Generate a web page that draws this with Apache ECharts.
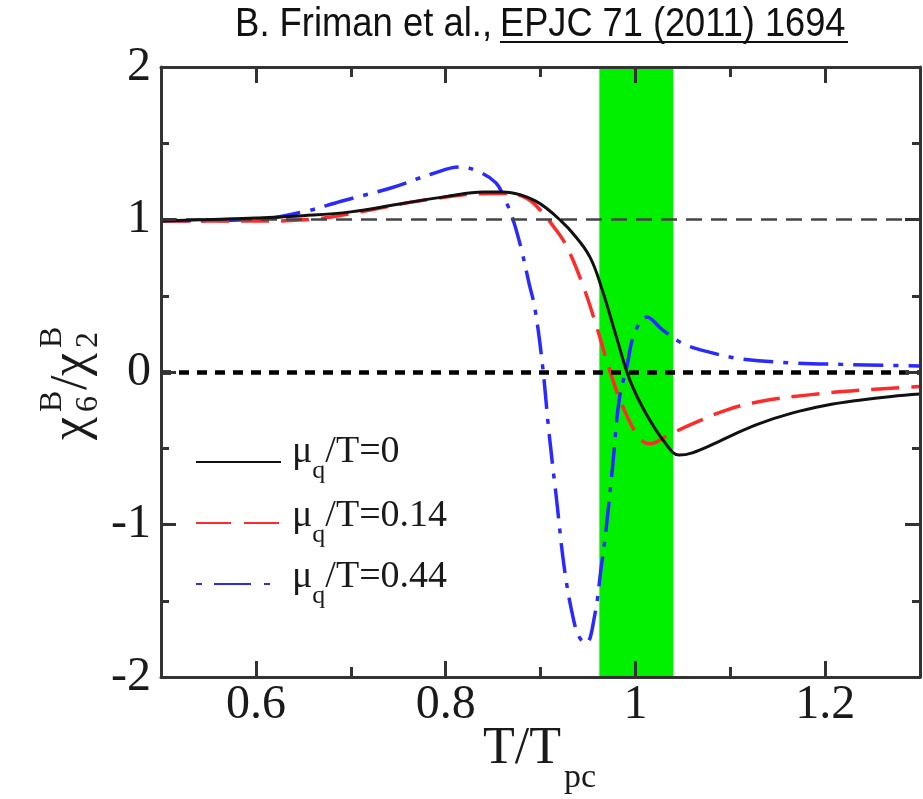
<!DOCTYPE html>
<html><head><meta charset="utf-8">
<script src="https://cdn.jsdelivr.net/npm/echarts@6/dist/echarts.min.js"></script>
<style>html,body{margin:0;padding:0;background:#fff}#c{width:923px;height:799px}</style>
</head><body><div id="c"></div>
<script>
// ---- data ----
const xBlack = [0.5,0.55,0.6,0.65,0.7,0.75,0.8,0.84,0.86,0.88,0.895,0.906,0.92,0.934,0.952,0.965,0.98,0.994,1.011,1.032,1.046,1.06,1.085,1.1,1.13,1.165,1.2,1.236,1.27,1.3];
const yBlack = [0.99,1.0,1.01,1.025,1.05,1.10,1.15,1.18,1.18,1.16,1.12,1.075,1.0,0.91,0.755,0.54,0.23,-0.05,-0.27,-0.47,-0.545,-0.53,-0.465,-0.42,-0.34,-0.27,-0.22,-0.185,-0.16,-0.145];

const xRed = [0.5,0.55,0.6,0.657,0.71,0.78,0.85,0.87,0.88,0.89,0.9,0.913,0.927,0.944,0.959,0.973,0.987,1.004,1.015,1.036,1.06,1.096,1.13,1.183,1.236,1.3];
const yRed = [0.99,0.99,0.99,1.0,1.05,1.13,1.17,1.17,1.155,1.12,1.06,0.96,0.83,0.58,0.30,0.01,-0.23,-0.43,-0.47,-0.41,-0.34,-0.25,-0.195,-0.15,-0.12,-0.095];

const xBlue = [0.5,0.6,0.65,0.69,0.744,0.786,0.815,0.836,0.853,0.862,0.871,0.880,0.888,0.894,0.902,0.909,0.917,0.925,0.934,0.941,0.948,0.957,0.964,0.969,0.976,0.983,0.991,0.999,1.012,1.028,1.049,1.078,1.113,1.165,1.218,1.3];
const yBlue = [0.99,1.0,1.05,1.12,1.21,1.30,1.345,1.31,1.24,1.14,1.0,0.80,0.58,0.42,0.05,-0.40,-0.84,-1.28,-1.6,-1.74,-1.78,-1.6,-1.28,-1.04,-0.62,-0.18,0.035,0.25,0.36,0.28,0.19,0.13,0.085,0.06,0.05,0.04];

const seriesNames = ['mu0','mu014','mu044'];
const legendValues = ['0','0.14','0.44'];
const xTicksMajor = [0.6,0.8,1.0,1.2];
const bandRange = [0.962,1.04];
const refLines = [1,0];

// ---- chart ----
const serif = '"Liberation Serif","Times New Roman",serif';
const sans = '"Liberation Sans", Arial, sans-serif';
const axisColor = '#333';
const pairs = (xs, ys) => xs.map((x,i)=>[x, ys[i]]);
const chart = echarts.init(document.getElementById('c'), null, {renderer:'canvas'});

const xBase = {type:'value', min:0.5, max:1.3, gridIndex:0, z:10, splitLine:{show:false}};
const tickLS = {color:axisColor, width:3};
const legendRich = {
  m:{fontFamily:serif,fontSize:38,fill:'#1a1a1a',lineHeight:38,verticalAlign:'top'},
  s:{fontFamily:serif,fontSize:26,fill:'#1a1a1a',lineHeight:26,padding:[25,0,0,0],verticalAlign:'top'}
};
const legendTextY = [433,497,558];

const option = {
  animation:false,
  backgroundColor:'#fff',
  grid:{left:161, right:3, top:67, bottom:122, containLabel:false},
  xAxis:[
    Object.assign({}, xBase, {position:'bottom',
      axisLine:{show:true,onZero:false,lineStyle:{color:axisColor,width:3}},
      axisTick:{show:true,inside:true,length:16,customValues:xTicksMajor,lineStyle:tickLS},
      axisLabel:{show:true,customValues:xTicksMajor,fontFamily:serif,fontSize:48,color:'#1a1a1a',margin:4}}),
    Object.assign({}, xBase, {position:'bottom', interval:0.1,
      axisLine:{show:false,onZero:false},
      axisTick:{show:true,inside:true,length:10,lineStyle:tickLS},
      axisLabel:{show:false}}),
    Object.assign({}, xBase, {position:'top',
      axisLine:{show:true,onZero:false,lineStyle:{color:axisColor,width:3}},
      axisTick:{show:true,inside:true,length:16,customValues:xTicksMajor,lineStyle:tickLS},
      axisLabel:{show:false}}),
    Object.assign({}, xBase, {position:'top', interval:0.1,
      axisLine:{show:false,onZero:false},
      axisTick:{show:true,inside:true,length:10,lineStyle:tickLS},
      axisLabel:{show:false}})
  ],
  yAxis:[
    {type:'value', min:-2, max:2, interval:1, position:'left', z:10,
      axisLine:{show:true,onZero:false,lineStyle:{color:axisColor,width:3}},
      axisTick:{show:true,inside:true,length:15,lineStyle:tickLS},
      minorTick:{show:true,splitNumber:2,length:8,lineStyle:tickLS},
      axisLabel:{fontFamily:serif,fontSize:48,color:'#1a1a1a',margin:10},
      splitLine:{show:false}, minorSplitLine:{show:false}},
    {type:'value', min:-2, max:2, interval:1, position:'right', z:10,
      axisLine:{show:true,onZero:false,lineStyle:{color:axisColor,width:3}},
      axisTick:{show:true,inside:true,length:15,lineStyle:tickLS},
      minorTick:{show:true,splitNumber:2,length:8,lineStyle:tickLS},
      axisLabel:{show:false},
      splitLine:{show:false}, minorSplitLine:{show:false}}
  ],
  legend:{
    orient:'vertical', left:195, top:452, padding:0, itemGap:43,
    itemWidth:85, itemHeight:20,
    itemStyle:{opacity:0},
    data:[
      {name:seriesNames[0], lineStyle:{type:'solid'}},
      {name:seriesNames[1], lineStyle:{type:[35,13]}},
      {name:seriesNames[2], lineStyle:{type:[6,12,37,13]}}
    ],
    formatter:function(){ return ''; },
    textStyle:{fontSize:8}
  },
  series:[
    {type:'line', name:'band', data:[], z:1, silent:true,
      markArea:{silent:true, itemStyle:{color:'#00f000',opacity:1},
        data:[[{xAxis:bandRange[0]},{xAxis:bandRange[1]}]]}},
    {type:'line', name:'ref', data:[], z:2, silent:true,
      markLine:{silent:true, symbol:['none','none'], label:{show:false},
        data:[
          {yAxis:refLines[0], lineStyle:{color:'#444',width:2.5,type:[16,9]}},
          {yAxis:refLines[1], lineStyle:{color:'#000',width:4.5,type:[10,8]}}
        ]}},
    {type:'line', name:seriesNames[0], data:pairs(xBlack,yBlack), z:5, smooth:0.4,
      symbol:'none', showSymbol:false, lineStyle:{color:'#111',width:3,type:'solid'}, itemStyle:{color:'#111'}},
    {type:'line', name:seriesNames[1], data:pairs(xRed,yRed), z:4, smooth:0.4,
      symbol:'none', showSymbol:false, lineStyle:{color:'#ff2a2a',width:3.5,type:[28,12]}, itemStyle:{color:'#ff2a2a'}},
    {type:'line', name:seriesNames[2], data:pairs(xBlue,yBlue), z:3, smooth:0.4,
      symbol:'none', showSymbol:false, lineStyle:{color:'#2a2aff',width:3.5,type:[30,10,5,10]}, itemStyle:{color:'#2a2aff'}}
  ],
  graphic:[
    {type:'text', x:492, y:25, scaleX:0.91, style:{text:'B. Friman et al.,', font:'40px '+sans, fill:'#111', align:'right', verticalAlign:'middle'}},
    {type:'text', x:500, y:25, scaleX:0.905, style:{text:'EPJC 71 (2011) 1694', font:'40px '+sans, fill:'#111', align:'left', verticalAlign:'middle'}},
    {type:'line', shape:{x1:500,y1:42,x2:848,y2:42}, style:{stroke:'#111',lineWidth:2}},
    {type:'text', x:483, y:749, style:{text:'T/T', font:'52px '+serif, fill:'#1a1a1a', align:'left', verticalAlign:'middle'}},
    {type:'text', x:564, y:778, style:{text:'pc', font:'34px '+serif, fill:'#1a1a1a', align:'left', verticalAlign:'middle'}},
    {type:'group', x:72, y:440, rotation:Math.PI/2, children:[
      {type:'text', x:0, y:0, style:{text:'χ', font:'52px '+serif, fill:'#1a1a1a', align:'left', verticalAlign:'middle'}},
      {type:'text', x:28, y:17, style:{text:'6', font:'32px '+serif, fill:'#1a1a1a', align:'left', verticalAlign:'middle'}},
      {type:'text', x:28, y:-19, style:{text:'B', font:'32px '+serif, fill:'#1a1a1a', align:'left', verticalAlign:'middle'}},
      {type:'text', x:50, y:0, style:{text:'/', font:'52px '+serif, fill:'#1a1a1a', align:'left', verticalAlign:'middle'}},
      {type:'text', x:64, y:0, style:{text:'χ', font:'52px '+serif, fill:'#1a1a1a', align:'left', verticalAlign:'middle'}},
      {type:'text', x:92, y:17, style:{text:'2', font:'32px '+serif, fill:'#1a1a1a', align:'left', verticalAlign:'middle'}},
      {type:'text', x:92, y:-19, style:{text:'B', font:'32px '+serif, fill:'#1a1a1a', align:'left', verticalAlign:'middle'}}
    ]}
  ].concat(legendValues.map((v,i)=>({
    type:'text', x:292, y:legendTextY[i],
    style:{text:'{m|μ}{s|q}{m|/T=' + v + '}', rich:legendRich, align:'left', verticalAlign:'top'}
  })))
};
chart.setOption(option);
</script>
</body></html>
